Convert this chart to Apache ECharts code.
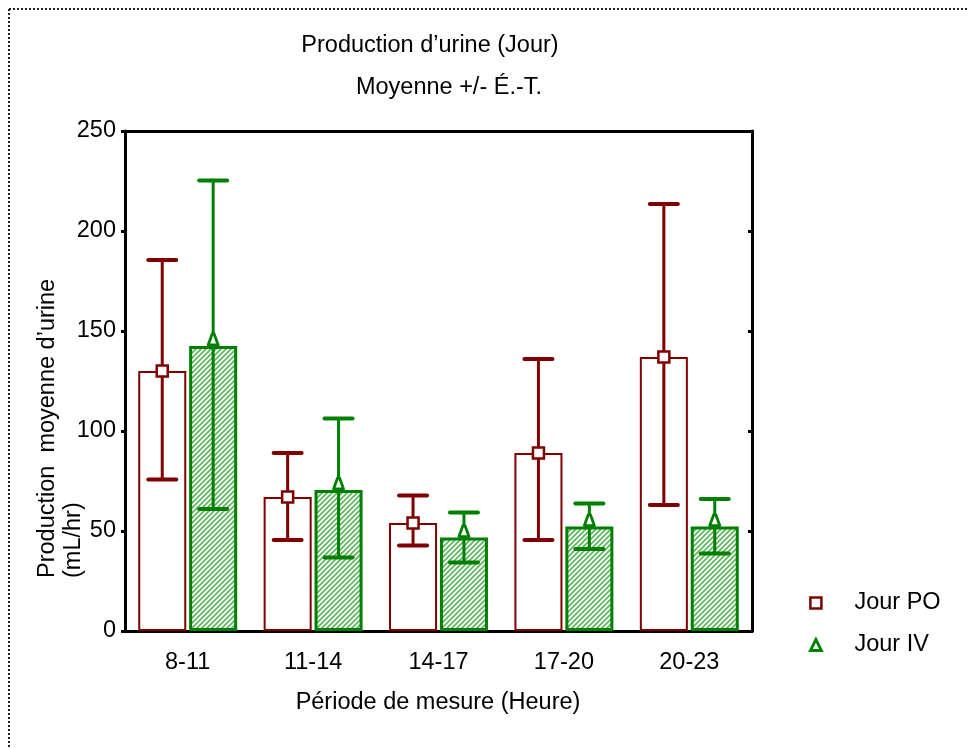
<!DOCTYPE html>
<html>
<head>
<meta charset="utf-8">
<script src="https://cdn.jsdelivr.net/npm/echarts@6/dist/echarts.min.js"></script>
<style>
html,body{margin:0;padding:0;background:#fff;}
#chart{width:969px;height:748px;}
</style>
</head>
<body>
<div id="chart"></div>
<script>
// ---- Data ----
const categories = ['8-11', '11-14', '14-17', '17-20', '20-23'];
const poMean  = [130, 67, 54, 89, 137];
const poUpper = [185.5, 89, 67.7, 136, 213.5];
const poLower = [75.8, 45.5, 42.7, 45.5, 63];
const ivMean  = [142.5, 70.5, 46.7, 52.2, 52.2];
const ivUpper = [225.3, 106.3, 59.3, 63.8, 66];
const ivLower = [61, 36.7, 34.3, 41, 38.8];
const yTicks = [0, 50, 100, 150, 200, 250];
const seriesNames = ['Jour PO', 'Jour IV'];

const FONT = "'Liberation Sans', Arial, sans-serif";
const FS = 23.5;
const RED = '#800000';
const GREEN = '#008000';
const BAR_W = 0.383;   // fraction of band
const BAR_GAP = 0.06;  // fraction of bar width

// hatch pattern
function hatch() {
  const c = document.createElement('canvas');
  const s = 5;
  c.width = s; c.height = s;
  const g = c.getContext('2d');
  g.fillStyle = '#ffffff';
  g.fillRect(0, 0, s, s);
  g.strokeStyle = '#66b866';
  g.lineWidth = 1.9;
  g.beginPath();
  g.moveTo(-1, s + 1); g.lineTo(s + 1, -1);
  g.moveTo(-1, 1); g.lineTo(1, -1);
  g.moveTo(s - 1, s + 1); g.lineTo(s + 1, s - 1);
  g.stroke();
  return c;
}

function errData(mean, up, lo) {
  return categories.map((c, i) => [i, up[i], lo[i], mean[i]]);
}

function makeRender(sign, markerType, color) {
  return function (params, api) {
    const idx = api.value(0);
    const band = api.size([1, 0])[0];
    const bw = band * BAR_W;
    const off = sign * (bw + bw * BAR_GAP) / 2;
    const pTop = api.coord([idx, api.value(1)]);
    const pBot = api.coord([idx, api.value(2)]);
    const pMid = api.coord([idx, api.value(3)]);
    const x = pTop[0] + off;
    const capHalf = 14;
    const children = [
      { type: 'line', shape: { x1: x, y1: pTop[1], x2: x, y2: pBot[1] },
        style: { stroke: color, lineWidth: 3 } },
      { type: 'line', shape: { x1: x - capHalf, y1: pTop[1], x2: x + capHalf, y2: pTop[1] },
        style: { stroke: color, lineWidth: 4, lineCap: 'round' } },
      { type: 'line', shape: { x1: x - capHalf, y1: pBot[1], x2: x + capHalf, y2: pBot[1] },
        style: { stroke: color, lineWidth: 4, lineCap: 'round' } }
    ];
    if (markerType === 'rect') {
      children.push({ type: 'rect', shape: { x: x - 5.5, y: pMid[1] - 5.5, width: 11, height: 11 },
        style: { fill: '#fff', stroke: color, lineWidth: 2.5 } });
    } else {
      const yb = pMid[1] - 1;
      children.push({ type: 'polygon', shape: { points: [[x - 1, yb - 11], [x + 1, yb - 11], [x + 5, yb], [x - 5, yb]] },
        style: { fill: '#fff', stroke: color, lineWidth: 2.8, lineJoin: 'round' } });
    }
    return { type: 'group', children: children };
  };
}

const chart = echarts.init(document.getElementById('chart'), null, { renderer: 'canvas' });

const axisLineStyle = { color: '#000', width: 3 };

const option = {
  backgroundColor: '#fff',
  animation: false,
  textStyle: { fontFamily: FONT },
  title: [
    { text: 'Production d\u2019urine (Jour)', left: 430, top: 34, textAlign: 'center', padding: 0,
      textStyle: { fontFamily: FONT, fontSize: FS, fontWeight: 'normal', color: '#000' } },
    { text: 'Moyenne +/- \u00c9.-T.', left: 449, top: 76, textAlign: 'center', padding: 0,
      textStyle: { fontFamily: FONT, fontSize: FS, fontWeight: 'normal', color: '#000' } }
  ],
  legend: {
    orient: 'vertical',
    left: 804,
    top: 586,
    itemWidth: 11,
    itemHeight: 11,
    itemGap: 18,
    selectedMode: false,
    textStyle: { fontFamily: FONT, fontSize: FS, color: '#000', lineHeight: 24, padding: [0, 0, 0, 28] },
    data: [
      { name: seriesNames[0], icon: 'rect', itemStyle: { color: '#fff', borderColor: RED, borderWidth: 2.5 } },
      { name: seriesNames[1], icon: 'triangle', itemStyle: { color: '#fff', borderColor: GREEN, borderWidth: 2.8 } }
    ]
  },
  grid: { left: 125, top: 131, width: 627, height: 500 },
  xAxis: [
    {
      type: 'category', data: categories, position: 'bottom',
      axisLine: { onZero: false, lineStyle: axisLineStyle },
      axisTick: { inside: true, length: 4, lineStyle: { color: '#000', width: 3 } },
      axisLabel: { color: '#000', fontFamily: FONT, fontSize: FS, margin: 20 },
      splitLine: { show: false }
    },
    {
      type: 'category', data: categories, position: 'top',
      axisLine: { onZero: false, lineStyle: axisLineStyle },
      axisTick: { inside: true, length: 4, lineStyle: { color: '#000', width: 3 } },
      axisLabel: { show: false },
      splitLine: { show: false }
    }
  ],
  yAxis: [
    {
      type: 'value', min: yTicks[0], max: yTicks[yTicks.length - 1], interval: 50, position: 'left',
      axisLine: { show: true, onZero: false, lineStyle: axisLineStyle },
      axisTick: { show: true, inside: false, length: 4, lineStyle: { color: '#000', width: 3 } },
      axisLabel: { color: '#000', fontFamily: FONT, fontSize: FS, margin: 9 },
      splitLine: { show: false }
    },
    {
      type: 'value', min: yTicks[0], max: yTicks[yTicks.length - 1], interval: 50, position: 'right',
      axisLine: { show: true, onZero: false, lineStyle: axisLineStyle },
      axisTick: { show: true, inside: true, length: 4, lineStyle: { color: '#000', width: 3 } },
      axisLabel: { show: false },
      splitLine: { show: false }
    }
  ],
  series: [
    {
      name: 'PO bars', type: 'bar', data: poMean,
      barWidth: (BAR_W * 100) + '%', barGap: (BAR_GAP * 100) + '%',
      itemStyle: { color: '#fff', borderColor: RED, borderWidth: 2 },
      z: 2
    },
    {
      name: 'IV bars', type: 'bar', data: ivMean,
      barWidth: (BAR_W * 100) + '%', barGap: (BAR_GAP * 100) + '%',
      itemStyle: { color: { image: hatch(), repeat: 'repeat' }, borderColor: GREEN, borderWidth: 3 },
      z: 2
    },
    {
      name: seriesNames[0], type: 'custom', data: errData(poMean, poUpper, poLower),
      renderItem: makeRender(-1, 'rect', RED),
      itemStyle: { color: '#fff', borderColor: RED, borderWidth: 2.5 },
      encode: { x: 0, y: [1, 2] }, z: 5
    },
    {
      name: seriesNames[1], type: 'custom', data: errData(ivMean, ivUpper, ivLower),
      renderItem: makeRender(1, 'triangle', GREEN),
      itemStyle: { color: '#fff', borderColor: GREEN, borderWidth: 2.8 },
      encode: { x: 0, y: [1, 2] }, z: 5
    }
  ],
  graphic: [
    { type: 'line', shape: { x1: 9, y1: 9, x2: 969, y2: 9 }, silent: true,
      style: { stroke: '#222', lineWidth: 2, lineDash: [2, 2] } },
    { type: 'line', shape: { x1: 9, y1: 9, x2: 9, y2: 748 }, silent: true,
      style: { stroke: '#222', lineWidth: 2, lineDash: [2, 2] } },
    { type: 'text', x: 438, y: 703, silent: true,
      style: { text: 'P\u00e9riode de mesure (Heure)', fill: '#000', font: FS + 'px ' + FONT,
        textAlign: 'center', textVerticalAlign: 'middle' } },
    { type: 'text', x: 48, y: 578, rotation: Math.PI / 2, silent: true,
      style: { text: 'Production  moyenne d\u2019urine', fill: '#000', font: FS + 'px ' + FONT,
        textAlign: 'left', textVerticalAlign: 'middle' } },
    { type: 'text', x: 74, y: 578, rotation: Math.PI / 2, silent: true,
      style: { text: '(mL/hr)', fill: '#000', font: FS + 'px ' + FONT,
        textAlign: 'left', textVerticalAlign: 'middle' } }
  ]
};

chart.setOption(option);
</script>
</body>
</html>
